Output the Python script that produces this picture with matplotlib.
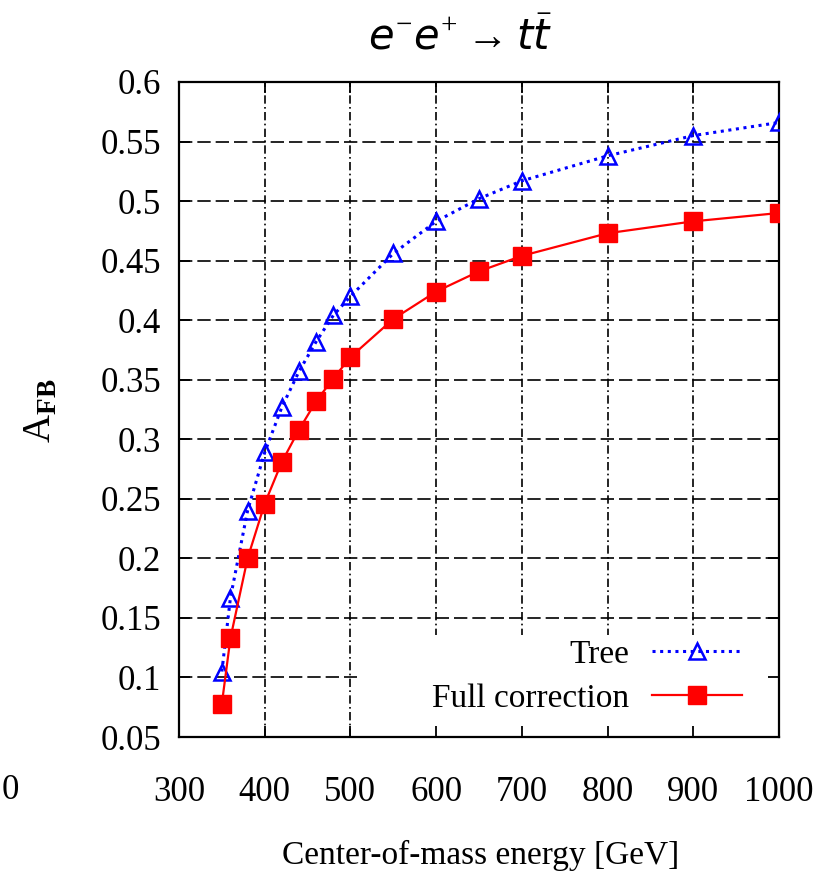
import matplotlib
matplotlib.use("Agg")
import matplotlib.pyplot as plt
from matplotlib.patches import Rectangle

# data
energy = [350, 360, 380, 400, 420, 440, 460, 480, 500, 550, 600, 650, 700, 800, 900, 1000]
afb_tree = [0.105, 0.167, 0.240, 0.289, 0.327, 0.357, 0.382, 0.404, 0.420,
            0.456, 0.483, 0.502, 0.517, 0.538, 0.555, 0.566]
afb_full = [0.078, 0.133, 0.200, 0.246, 0.281, 0.308, 0.332, 0.351, 0.369,
            0.401, 0.424, 0.441, 0.454, 0.473, 0.483, 0.490]

xticks = [300, 400, 500, 600, 700, 800, 900, 1000]
yticks = [0.05, 0.1, 0.15, 0.2, 0.25, 0.3, 0.35, 0.4, 0.45, 0.5, 0.55, 0.6]
ytick_labels = ['0.05', '0.1', '0.15', '0.2', '0.25', '0.3', '0.35', '0.4',
                '0.45', '0.5', '0.55', '0.6']

plt.rcParams['font.family'] = ['Liberation Serif', 'DejaVu Serif']
plt.rcParams['mathtext.fontset'] = 'custom'
plt.rcParams['mathtext.rm'] = 'Liberation Serif'
plt.rcParams['mathtext.bf'] = 'Liberation Serif:bold'
plt.rcParams['mathtext.it'] = 'DejaVu Sans:italic'

fig = plt.figure(figsize=(8.28, 8.77), dpi=100)
ax = fig.add_axes([0.2162, 0.1596, 0.7246, 0.7469])

ax.set_xlim(300, 1000)
ax.set_ylim(0.05, 0.6)

# grid drawn by hand so the key can blank it but not the ticks
for x in xticks[1:-1]:
    ax.axvline(x, color='black', lw=1.2, ls=(0, (5, 2, 1, 2)), zorder=0.5)
for y in yticks[1:-1]:
    ax.axhline(y, color='black', lw=1.2, ls=(0, (8, 3)), zorder=0.5)

# white area behind the key
ax.add_patch(Rectangle((0.297, 0.0), 0.703, 0.156, transform=ax.transAxes,
                       facecolor='white', edgecolor='none', zorder=1))

ax.plot(energy, afb_tree, color='#0000ff', ls=(0, (1, 1.5)), lw=2.2,
        marker='^', markersize=11, markerfacecolor='none',
        markeredgecolor='#0000ff', markeredgewidth=1.8, label='Tree', zorder=3)
ax.plot(energy, afb_full, color='#ff0000', ls='-', lw=1.6,
        marker='s', markersize=13, markerfacecolor='#ff0000',
        markeredgecolor='#ff0000', label='Full correction', zorder=3)

ax.set_xticks(xticks)
ax.set_yticks(yticks)
ax.set_yticklabels(ytick_labels)
ax.tick_params(axis='both', direction='in', length=8, width=1.3,
               top=True, right=True, labelsize=25)
ax.tick_params(axis='x', pad=28)
ax.tick_params(axis='y', pad=13)
for s in ax.spines.values():
    s.set_linewidth(1.6)

leg = ax.legend(loc='lower right', markerfirst=False, frameon=False,
                fontsize=24, handlelength=2.7, handletextpad=0.7,
                labelspacing=0.4, borderaxespad=0.3,
                bbox_to_anchor=(0.978, 0.0))

fig.text(0.556, 0.957, r'$e^{-}e^{+}\rightarrow t\bar{t}$', fontsize=30,
         ha='center', va='center')
fig.text(0.05, 0.532, r'$\mathrm{A}_{\mathbf{FB}}$', fontsize=28,
         rotation=90, ha='center', va='center')
fig.text(0.58, 0.025, 'Center-of-mass energy [GeV]', fontsize=24,
         ha='center', va='center')
fig.text(0.002, 0.099, '0', fontsize=25, ha='left', va='center')

fig.savefig('out.png', dpi=100)
